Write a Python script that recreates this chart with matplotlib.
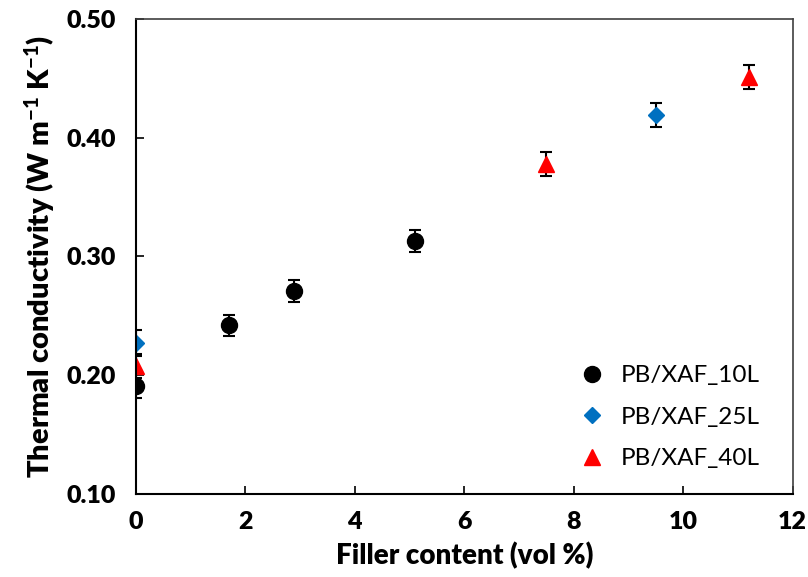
import matplotlib
matplotlib.use("Agg")
import matplotlib.pyplot as plt

# ==========================
# Data
# ==========================
x_10L = [0.0, 1.7, 2.9, 5.1]
y_10L = [0.191, 0.242, 0.271, 0.313]
e_10L = [0.010, 0.009, 0.009, 0.009]

x_25L = [0.0, 9.5]
y_25L = [0.227, 0.419]
e_25L = [0.011, 0.010]

x_40L = [0.0, 7.5, 11.2]
y_40L = [0.208, 0.378, 0.451]
e_40L = [0.010, 0.010, 0.010]

labels = ["PB/XAF_10L", "PB/XAF_25L", "PB/XAF_40L"]

# ==========================
# Style
# ==========================
plt.rcParams["font.family"] = ["Lato", "DejaVu Sans"]
plt.rcParams["mathtext.fontset"] = "custom"
plt.rcParams["mathtext.rm"] = "Lato:black"
plt.rcParams["mathtext.it"] = "Lato:black"
plt.rcParams["mathtext.bf"] = "Lato:black"

fig = plt.figure(figsize=(8.08, 5.77), dpi=100)
ax = fig.add_axes([0.168, 0.144, 0.813, 0.823])

err_kw = dict(ecolor="black", elinewidth=1.5, capsize=4, capthick=1.5, linestyle="none")

ax.errorbar(x_10L, y_10L, yerr=e_10L, fmt="o", color="black",
            markersize=11.5, label=labels[0], **err_kw)
ax.errorbar(x_25L, y_25L, yerr=e_25L, fmt="D", color="#0070C0",
            markersize=8.5, label=labels[1], **err_kw)
ax.errorbar(x_40L, y_40L, yerr=e_40L, fmt="^", color="#FF0000",
            markersize=12, label=labels[2], **err_kw)

ax.set_xlim(0, 12)
ax.set_ylim(0.10, 0.50)
ax.set_xticks([0, 2, 4, 6, 8, 10, 12])
ax.set_yticks([0.10, 0.20, 0.30, 0.40, 0.50])
ax.set_yticklabels([f"{v:.2f}" for v in [0.10, 0.20, 0.30, 0.40, 0.50]])

ax.tick_params(axis="both", direction="in", length=6, width=1.2, labelsize=18)
ax.tick_params(axis="x", pad=12)
ax.tick_params(axis="y", pad=14)
for lab in ax.get_xticklabels() + ax.get_yticklabels():
    lab.set_fontweight("heavy")

for side in ["left", "bottom"]:
    ax.spines[side].set_linewidth(1.5)
for side in ["top", "right"]:
    ax.spines[side].set_linewidth(1.2)
    ax.spines[side].set_color("#404040")

ax.set_xlabel("Filler content (vol %)", fontsize=20, fontweight="heavy", labelpad=7)
ax.set_ylabel("Thermal conductivity (W m$^{-1}$ K$^{-1}$)", fontsize=21,
              fontweight="heavy", labelpad=7)

# legend without error bars
handles, leg_labels = ax.get_legend_handles_labels()
handles = [h[0] for h in handles]
ax.legend(handles, leg_labels, loc="lower right", frameon=False, fontsize=17.5,
          handlelength=1.2, handletextpad=0.6, labelspacing=0.85, borderaxespad=0.8,
          bbox_to_anchor=(0.995, -0.01))

fig.savefig("out.png", dpi=100)
